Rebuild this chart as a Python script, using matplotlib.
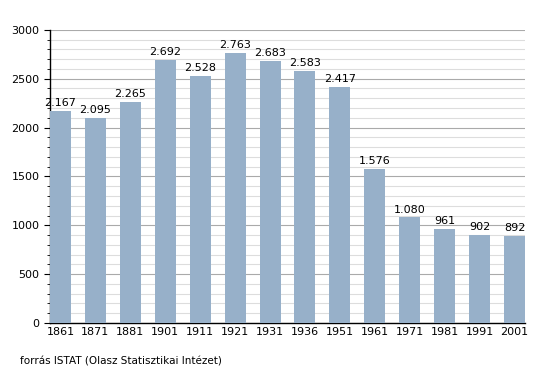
import numpy as np
import matplotlib
matplotlib.use('Agg')
import matplotlib.pyplot as plt
import matplotlib.ticker as mticker

plt.rcParams.update({
    'font.family': 'DejaVu Sans',
    'font.size': 8,
})

years = ['1861', '1871', '1881', '1901', '1911', '1921', '1931',
         '1936', '1951', '1961', '1971', '1981', '1991', '2001']
population = [2167, 2095, 2265, 2692, 2528, 2763, 2683,
              2583, 2417, 1576, 1080, 961, 902, 892]
value_labels = ['2.167', '2.095', '2.265', '2.692', '2.528', '2.763', '2.683',
                '2.583', '2.417', '1.576', '1.080', '961', '902', '892']

fig = plt.figure(figsize=(5.55, 3.73), dpi=100)
ax = fig.add_axes([0.090, 0.134, 0.856, 0.786])

w = 0.6
x = np.arange(len(years))
ax.bar(x, population, width=w, color='#97b0c9', zorder=3)

for xi, val, lab in zip(x, population, value_labels):
    ax.text(xi, val + 30, lab, ha='center', va='bottom', fontsize=8, zorder=4)

ax.set_xlim(-w / 2, len(years) - 1 + w / 2)
ax.set_ylim(0, 3000)
ax.set_xticks(x)
ax.set_xticklabels(years, fontsize=8)
ax.tick_params(axis='x', length=0, pad=3)

ax.yaxis.set_major_locator(mticker.MultipleLocator(500))
ax.yaxis.set_minor_locator(mticker.MultipleLocator(100))
ax.tick_params(axis='y', which='major', length=4, labelsize=8)
ax.tick_params(axis='y', which='minor', length=2)
ax.grid(axis='y', which='major', color='#aaaaaa', lw=0.8, zorder=1)
ax.grid(axis='y', which='minor', color='#dddddd', lw=0.8, zorder=0)

for s in ['top', 'right']:
    ax.spines[s].set_visible(False)
ax.spines['left'].set_linewidth(1)
ax.spines['bottom'].set_linewidth(1)

fig.text(20 / 555, 1 - 362 / 373, 'forrás ISTAT (Olasz Statisztikai Intézet)',
         ha='left', va='center', fontsize=7.5)

fig.savefig('out.png', dpi=100, facecolor='white')
